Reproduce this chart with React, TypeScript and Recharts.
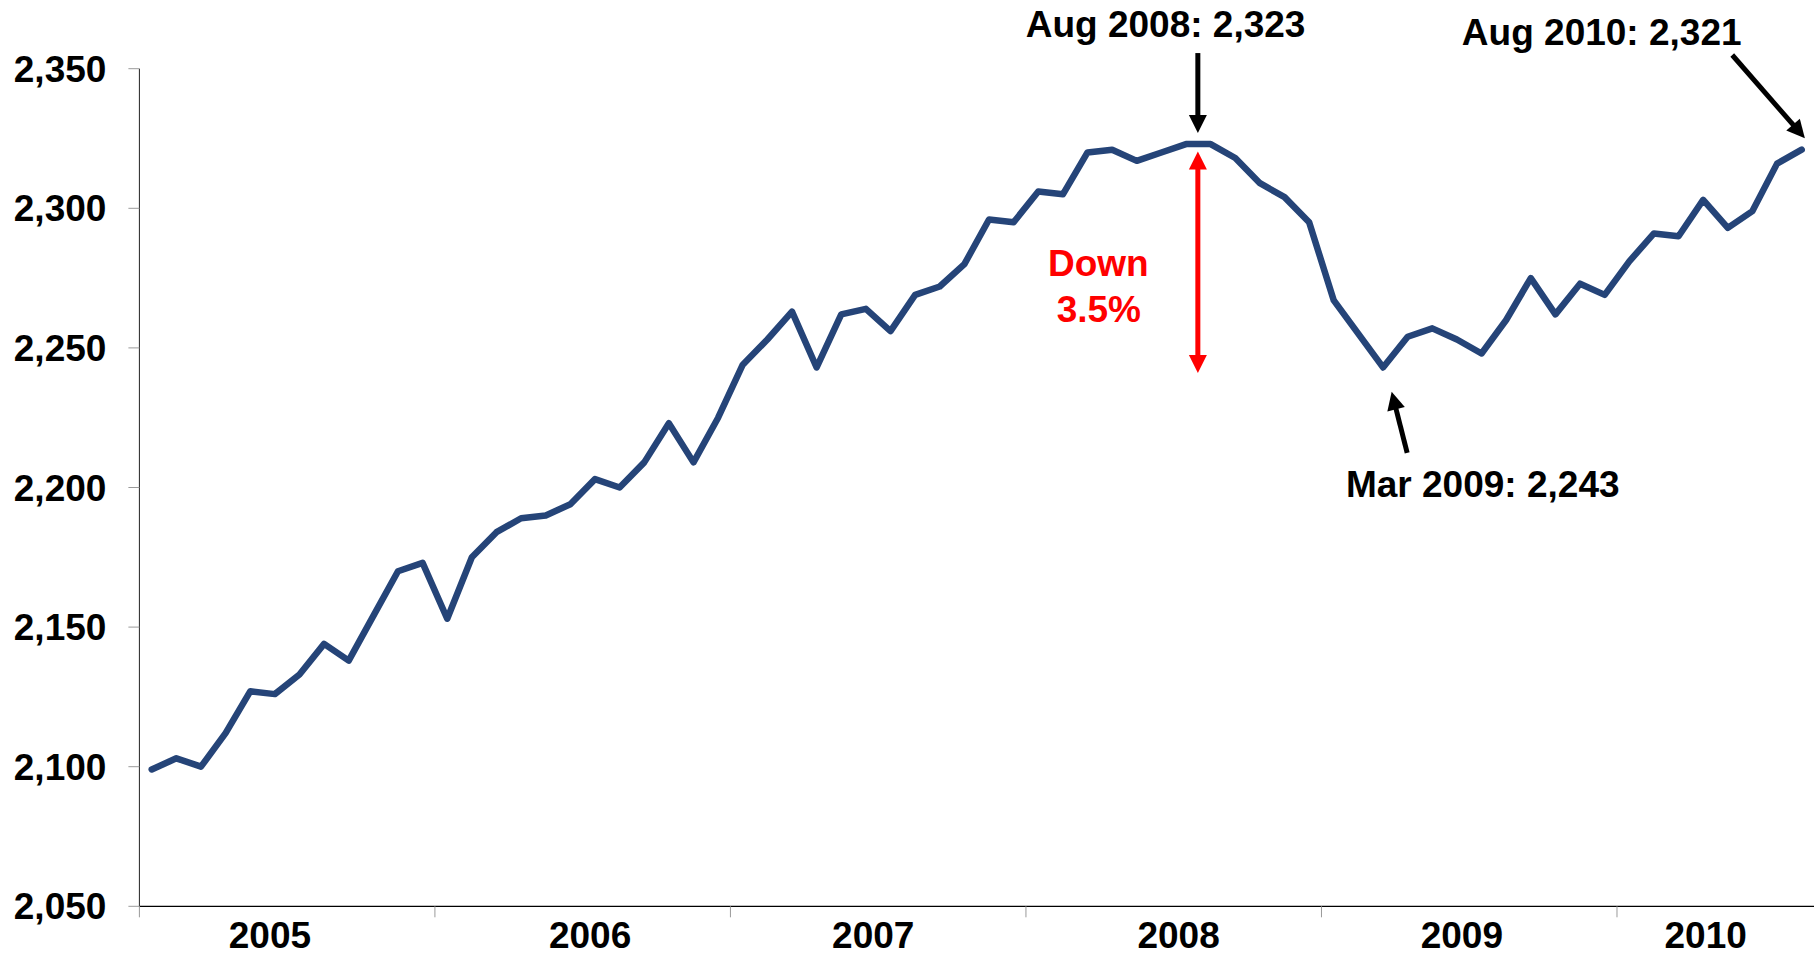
import React from 'react';
import { LineChart, Line, XAxis, YAxis, ReferenceLine, ReferenceDot } from 'recharts';

// Monthly values, Jan 2005 .. Aug 2010
const years = ['2005', '2006', '2007', '2008', '2009', '2010'];
const monthNames = ['Jan', 'Feb', 'Mar', 'Apr', 'May', 'Jun', 'Jul', 'Aug', 'Sep', 'Oct', 'Nov', 'Dec'];
const values = [
  2099, 2103, 2100, 2112, 2127, 2126, 2133, 2144, 2138, 2154, 2170, 2173,
  2153, 2175, 2184, 2189, 2190, 2194, 2203, 2200, 2209, 2223, 2209, 2225,
  2244, 2253, 2263, 2243, 2262, 2264, 2256, 2269, 2272, 2280, 2296, 2295,
  2306, 2305, 2320, 2321, 2317, 2320, 2323, 2323, 2318, 2309, 2304, 2295,
  2267, 2255, 2243, 2254, 2257, 2253, 2248, 2260, 2275, 2262, 2273, 2269,
  2281, 2291, 2290, 2303, 2293, 2299, 2316, 2321,
];
const yTicks = [2050, 2100, 2150, 2200, 2250, 2300, 2350];
const yearBoundaries = [-0.5, 11.5, 23.5, 35.5, 47.5, 59.5];
const yearLabelPos = [4.8, 17.8, 29.3, 41.7, 53.2, 63.1];

const annotations = [
  { text: 'Aug 2008: 2,323', x: 41.17, y: 2361.5, color: '#000000' },
  { text: 'Down', x: 38.44, y: 2275.8, color: '#FF0000' },
  { text: '3.5%', x: 38.46, y: 2259.4, color: '#FF0000' },
  { text: 'Mar 2009: 2,243', x: 54.05, y: 2196.6, color: '#000000' },
  { text: 'Aug 2010: 2,321', x: 58.88, y: 2358.5, color: '#000000' },
];

const arrows = [
  { from: { x: 42.48, y: 2355.6 }, to: { x: 42.48, y: 2327.0 }, color: '#000000', both: false },
  { from: { x: 42.48, y: 2320.3 }, to: { x: 42.48, y: 2241.0 }, color: '#FF0000', both: true },
  { from: { x: 50.98, y: 2212.4 }, to: { x: 50.35, y: 2234.3 }, color: '#000000', both: false },
  { from: { x: 64.18, y: 2354.9 }, to: { x: 67.13, y: 2325.1 }, color: '#000000', both: false },
];

const data = values.map((v, i) => ({
  i,
  month: `${monthNames[i % 12]} ${years[Math.floor(i / 12)]}`,
  value: v,
}));

const FONT = '"Liberation Sans", Arial, Helvetica, sans-serif';

const XTick = (props: any) => {
  const { x, y, payload } = props;
  const v = payload.value;
  if (yearBoundaries.indexOf(v) >= 0) {
    return <line x1={x} x2={x} y1={y} y2={y + 11} stroke="#9a9a9a" strokeWidth={1} />;
  }
  const li = yearLabelPos.indexOf(v);
  return (
    <text x={x} y={y + 41.5} textAnchor="middle" fontFamily={FONT} fontWeight="bold" fontSize={37} fill="#000">
      {li >= 0 ? years[li] : ''}
    </text>
  );
};

const ArrowShape = (props: any) => {
  const { x1, y1, x2, y2, color, both } = props;
  const dx = x2 - x1;
  const dy = y2 - y1;
  const len = Math.hypot(dx, dy) || 1;
  const ux = dx / len;
  const uy = dy / len;
  const H = 18;
  const W = 18;
  const head = (tx: number, ty: number, vx: number, vy: number) => {
    const bx = tx - vx * H;
    const by = ty - vy * H;
    const px = -vy * (W / 2);
    const py = vx * (W / 2);
    return `${tx},${ty} ${bx + px},${by + py} ${bx - px},${by - py}`;
  };
  const sx = both ? x1 + ux * (H - 2) : x1;
  const sy = both ? y1 + uy * (H - 2) : y1;
  return (
    <g>
      <line x1={sx} y1={sy} x2={x2 - ux * (H - 2)} y2={y2 - uy * (H - 2)} stroke={color} strokeWidth={5} />
      <polygon points={head(x2, y2, ux, uy)} fill={color} />
      {both ? <polygon points={head(x1, y1, -ux, -uy)} fill={color} /> : null}
    </g>
  );
};

export default function App() {
  return (
    <div style={{ position: 'absolute', left: 0, top: 0, width: 1814, height: 956, background: '#fff' }}>
      <LineChart width={1814} height={956} data={data} margin={{ top: 68.7, right: 0, bottom: 0, left: 0 }}>
        <XAxis
          dataKey="i"
          type="number"
          domain={[-0.5, 67.5]}
          ticks={[...yearBoundaries, ...yearLabelPos]}
          interval={0}
          height={49.7}
          tickSize={0}
          tickMargin={0}
          tickLine={false}
          axisLine={{ stroke: '#000', strokeWidth: 1.3 }}
          tick={<XTick />}
        />
        <YAxis
          type="number"
          domain={[2050, 2350]}
          ticks={yTicks}
          interval={0}
          width={139.4}
          tickSize={11}
          tickMargin={22}
          tickLine={{ stroke: '#9a9a9a', strokeWidth: 1 }}
          axisLine={{ stroke: '#222', strokeWidth: 1 }}
          tickFormatter={(v: number) => v.toLocaleString('en-US')}
          tick={{ fontFamily: FONT, fontWeight: 'bold', fontSize: 37, fill: '#000' }}
        />
        <Line
          type="linear"
          dataKey="value"
          stroke="#254478"
          strokeWidth={6.5}
          strokeLinejoin="round"
          strokeLinecap="round"
          dot={false}
          activeDot={false}
          isAnimationActive={false}
        />
        {arrows.map((a, k) => (
          <ReferenceLine
            key={`arrow-${k}`}
            segment={[a.from, a.to]}
            ifOverflow="visible"
            shape={(p: any) => <ArrowShape x1={p.x1} y1={p.y1} x2={p.x2} y2={p.y2} color={a.color} both={a.both} />}
          />
        ))}
        {annotations.map((t, k) => (
          <ReferenceDot
            key={`ann-${k}`}
            x={t.x}
            y={t.y}
            r={0}
            ifOverflow="visible"
            shape={(p: any) => (
              <text x={p.cx} y={p.cy} textAnchor="middle" fontFamily={FONT} fontWeight="bold" fontSize={37} fill={t.color}>
                {t.text}
              </text>
            )}
          />
        ))}
      </LineChart>
    </div>
  );
}
